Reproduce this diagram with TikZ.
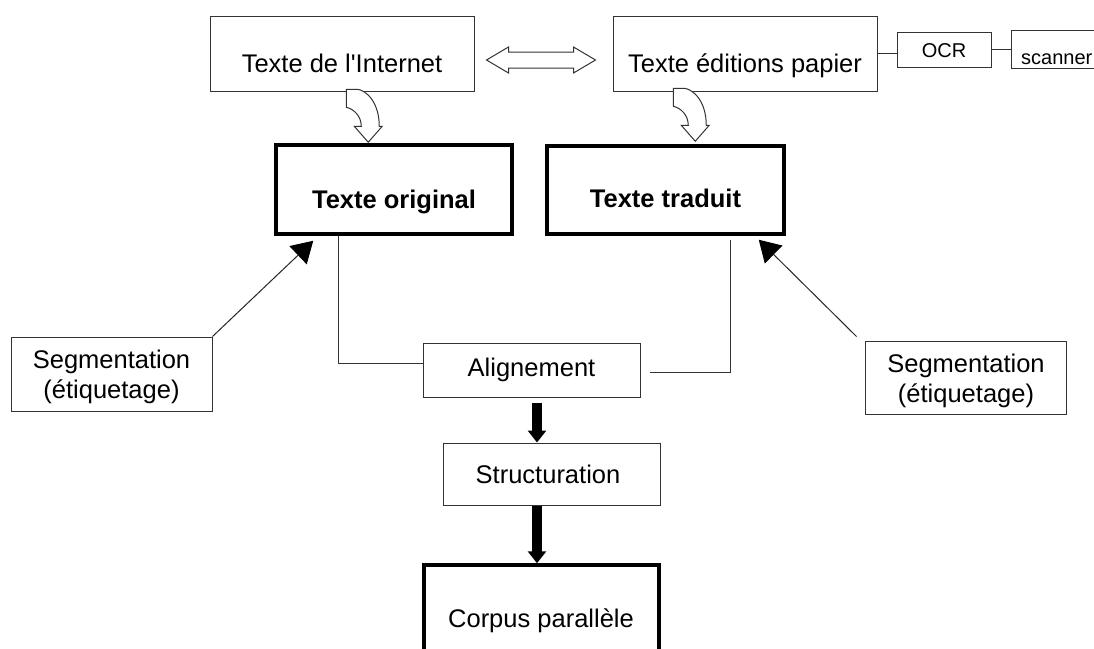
\documentclass[tikz,border=0pt]{standalone}
\usepackage{fontspec}
\setmainfont{Liberation Sans}
\usetikzlibrary{calc,arrows.meta}

\tikzset{
  thinline/.style={draw=black!80, line width=1pt},
  thinbox/.style={thinline, rectangle, inner sep=0pt, fill=white},
  thickbox/.style={draw=black, line width=3.5pt, rectangle, inner sep=0pt, fill=white},
  label/.style={anchor=base, inner sep=0pt, font=\fontsize{25.5}{30}\selectfont},
  smalllabel/.style={anchor=base, inner sep=0pt, font=\fontsize{20}{24}\selectfont},
  boldlabel/.style={anchor=base, inner sep=0pt, font=\fontsize{25.5}{30}\selectfont\bfseries},
  twolines/.style={anchor=base, inner sep=0pt, align=center, font=\fontsize{25.5}{30}\selectfont},
  segarrow/.style={draw=black!85, line width=1pt, -{Triangle[length=21pt,width=25pt,color=black]}},
  bigarrow/.style={draw=black, line width=10pt, -{Triangle[length=12pt,width=18pt]}},
  bentarrow/.pic={
    \draw[thinline, fill=white] (-22,-53) -- (-22,-35)
      .. controls (-14,-33) and (-7,-26) .. (-7,-16)
      -- (-14,-16) -- (0,0) -- (14,-16) -- (11,-16)
      .. controls (11,-40) and (-2,-52) .. (-11,-53) -- cycle;
  }
}

\begin{document}
\begin{tikzpicture}[x=1pt, y=-1pt]
\clip (0,0) rectangle (1094,648);
\fill[white] (0,0) rectangle (1094,648);

% sources
\node[thinbox, minimum width=264pt, minimum height=75pt] (internet) at (342,53.5) {};
\node[label] (internetT) at (342,72) {Texte de l\textquotesingle Internet};
\node[thinbox, minimum width=264pt, minimum height=75pt] (papier) at (745,53.5) {};
\node[label] (papierT) at (745,72) {Texte éditions papier};
\node[thinbox, minimum width=94pt, minimum height=35pt] (ocr) at (944,49.5) {};
\node[smalllabel] (ocrT) at (944,57) {OCR};
\node[thinbox, minimum width=120pt, minimum height=38pt] (scanner) at (1071,49) {};
\node[smalllabel, anchor=base west] (scannerT) at (1021,64) {scanner};

\draw[thinline] (papier.east) -- (ocr.west |- papier.east);
\draw[thinline] (ocr.east) -- (scanner.west |- ocr.east);

% hollow double arrow between the two sources
\coordinate (dl) at ($(internet.east)+(12,6.5)$);
\coordinate (dr) at ($(papier.west)+(-17,6.5)$);
\draw[thinline, fill=white] (dl) -- ++(22,-13) -- ++(0,5) -- ($(dr)+(-22,-8)$) -- ++(0,-5)
  -- (dr) -- ++(-22,13) -- ++(0,-5) -- ($(dl)+(22,8)$) -- ++(0,5) -- cycle;

% texts
\node[thickbox, minimum width=236pt, minimum height=89pt] (orig) at (394,189.5) {};
\node[boldlabel] (origT) at (394,208) {Texte original};
\node[thickbox, minimum width=237pt, minimum height=88pt] (trad) at (665.5,190) {};
\node[boldlabel] (tradT) at (665.5,207) {Texte traduit};

\pic at ($(orig.north west)+(94,-1)$) {bentarrow};
\pic at ($(trad.north west)+(150,-3)$) {bentarrow};

% segmentation (base anchor sits on the last line)
\node[thinbox, minimum width=201pt, minimum height=74pt] (segL) at (111.5,374) {};
\node[twolines] (segLT) at (111.5,398) {Segmentation\\(étiquetage)};
\node[thinbox, minimum width=201pt, minimum height=73pt] (segR) at (965.5,377.5) {};
\node[twolines] (segRT) at (966,402) {Segmentation\\(étiquetage)};

\draw[segarrow] (segL.north east) -- ($(orig.south west)+(39,5)$);
\draw[segarrow] ($(segR.north west)+(-8,-4)$) -- ($(trad.south east)+(-27,4)$);

% alignment and structure
\node[thinbox, minimum width=217pt, minimum height=54pt] (align) at (531.5,370) {};
\node[label] (alignT) at (531.5,376) {Alignement};
\draw[thinline] ($(orig.south west)+(64,0)$) |- ($(align.north west)+(0,21)$);
\draw[thinline] ($(trad.south west)+(185,4)$) |- ($(align.east)+(9,2)$);

\node[thinbox, minimum width=217pt, minimum height=62pt] (struct) at (551.5,474) {};
\node[label] (structT) at (548,483) {Structuration};
\node[thickbox, minimum width=235pt, minimum height=115pt] (corpus) at (541.5,622.5) {};
\node[label] (corpusT) at (541,627) {Corpus parallèle};

\draw[bigarrow] ($(align.south)+(5.5,5)$) -- ($(struct.north)+(-14.5,0)$);
\draw[bigarrow] ($(struct.south)+(-14.5,0)$) -- ($(corpus.north)+(-4.5,0)$);
\end{tikzpicture}
\end{document}
